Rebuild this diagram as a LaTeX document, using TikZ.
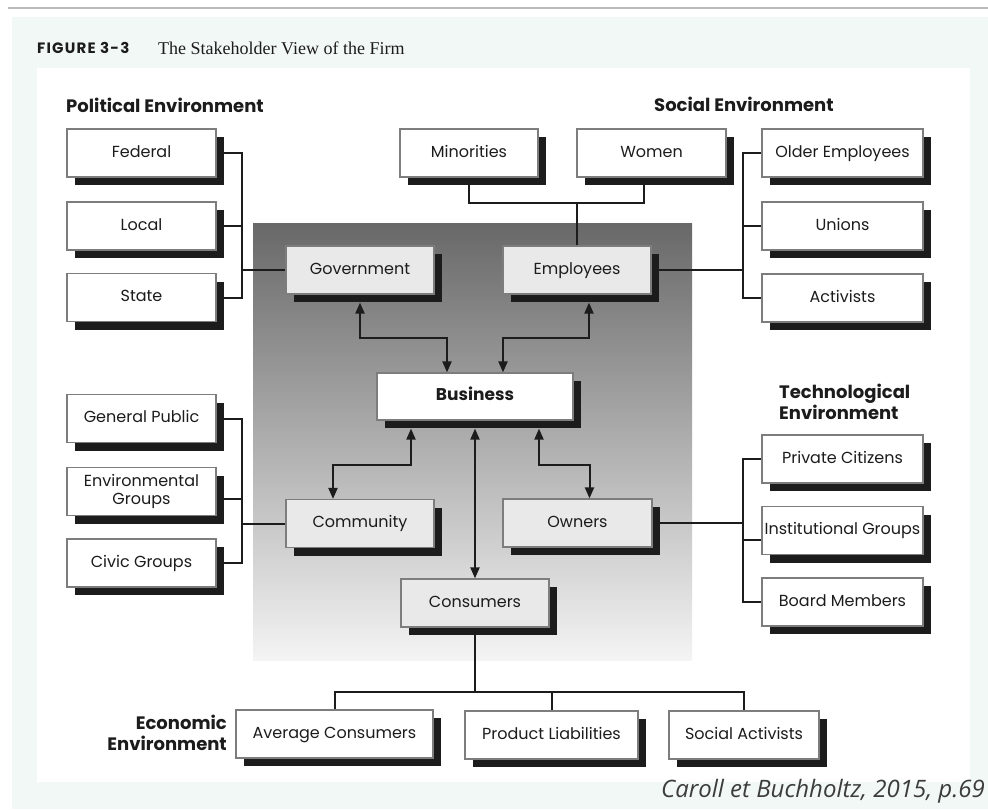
\documentclass[tikz,border=0pt]{standalone}
\usepackage{fontspec}
\setmainfont{Poppins}
\newfontfamily\capserif{Liberation Serif}
\newfontfamily\citefont{Open Sans}
\usetikzlibrary{arrows.meta,shadows,backgrounds}
\definecolor{mint}{RGB}{242,248,245}
\definecolor{edge}{RGB}{125,125,125}
\definecolor{inbox}{RGB}{233,233,233}
\definecolor{ink}{RGB}{28,28,28}
\definecolor{pantop}{RGB}{104,104,104}
\definecolor{panbot}{RGB}{244,244,244}
\definecolor{citegray}{RGB}{60,60,60}
\begin{document}
\begin{tikzpicture}[x=1pt,y=-1pt,line join=miter,
  stake/.style={draw=edge,line width=1.2pt,fill=white,minimum height=48pt,inner sep=0pt,
    align=center,font=\fontsize{16}{18}\selectfont,text=ink,text height=11.5pt,text depth=3.5pt,
    drop shadow={shadow xshift=8pt,shadow yshift=-8pt,fill=ink,opacity=1}},
  innerbox/.style={stake,fill=inbox},
  envlabel/.style={font=\bfseries\fontsize{18}{21}\selectfont,text=ink,inner sep=0pt},
  link/.style={draw=ink,line width=2pt},
  twoway/.style={link,{Triangle[length=11pt,width=9pt]}-{Triangle[length=11pt,width=9pt]}}]
  \useasboundingbox (0,0) rectangle (988,809);
  \begin{scope}[on background layer]
   \fill[white] (0,0) rectangle (988,809);
   \draw[gray!55,line width=2.5pt] (8,8) -- (988,8);
   \fill[mint] (12,17) rectangle (988,809);
   \fill[white] (37,68) rectangle (970,782);
   \shade[top color=pantop,bottom color=panbot] (253,223) rectangle (692,660);
  \end{scope}
  % caption and environments
  \node[anchor=west,inner sep=0pt,font=\bfseries\fontsize{15}{17}\selectfont\addfontfeatures{LetterSpace=8},text=ink] (fig) at (37,48) {FIGURE 3-3};
  \node[anchor=west,inner sep=0pt,font=\capserif\fontsize{18}{20}\selectfont,text=ink] (title) at (158,48) {The Stakeholder View of the Firm};
  \node[envlabel,anchor=west] (polenv) at (66,105) {Political Environment};
  \node[envlabel,anchor=west] (socenv) at (654,104) {Social Environment};
  \node[envlabel,anchor=west,align=left] (tecenv) at (779,402) {Technological\\Environment};
  \node[envlabel,anchor=east,align=right] (ecoenv) at (227,733) {Economic\\Environment};
  \node[anchor=east,inner sep=0pt,font=\citefont\itshape\fontsize{24}{26}\selectfont,text=citegray] (cite) at (985,791) {Caroll et Buchholtz, 2015, p.69};
  % stakeholders
  \foreach \n/\t/\y in {fed/Federal/153,loc/Local/226,sta/State/297.5,gen/General Public/418.5,civ/Civic Groups/563}
   \node[stake,minimum width=149pt] (\n) at (141.5,\y) {\t};
  \node[stake,minimum width=149pt,text height=29.5pt] (env) at (141.5,491.5) {Environmental\\Groups};
  \foreach \n/\t/\y in {old/Older Employees/153,uni/Unions/226,act/Activists/298,pri/Private Citizens/459,ins/Institutional Groups/530.5,boa/Board Members/602}
   \node[stake,minimum width=161pt] (\n) at (842.5,\y) {\t};
  \node[stake,minimum width=138pt] (min) at (469,153) {Minorities};
  \node[stake,minimum width=149pt] (wom) at (651.5,153) {Women};
  \node[innerbox,minimum width=148pt] (gov) at (360,270) {Government};
  \node[innerbox,minimum width=148pt] (emp) at (577,270) {Employees};
  \node[stake,minimum width=196pt,minimum height=47pt,font=\bfseries\fontsize{17}{19}\selectfont] (bus) at (475,396.5) {Business};
  \node[innerbox,minimum width=148pt] (com) at (360,523.5) {Community};
  \node[innerbox,minimum width=149pt] (own) at (577.5,523) {Owners};
  \node[innerbox,minimum width=148pt] (con) at (475,603) {Consumers};
  \node[stake,minimum width=197pt] (avg) at (334.5,734) {Average Consumers};
  \node[stake,minimum width=173pt] (pro) at (551.5,735) {Product Liabilities};
  \node[stake,minimum width=150pt] (soc) at (744,735) {Social Activists};
  \coordinate (pb) at (242,270);
  \coordinate (sj) at (577,203);
  \coordinate (sb) at (743,270);
  \coordinate (cb) at (242,523.5);
  \coordinate (tb) at (743,523);
  \coordinate (eb) at (475,692);
  \begin{scope}[on background layer]
   \draw[link] (fed.east) -| (pb) -- (gov.west);
   \draw[link] (sta.east) -| (pb);
   \draw[link] (loc.east) -- (loc.east -| pb);
   \draw[link] (min.south) |- (sj) -- (emp.north);
   \draw[link] ([xshift=-8pt]wom.south) |- (sj);
   \draw[link] (emp.east) -- (sb);
   \draw[link] (old.west) -| (sb);
   \draw[link] (act.west) -| (sb);
   \draw[link] (uni.west) -- (uni.west -| sb);
   \draw[link] (gen.east) -| (cb) -- (com.west);
   \draw[link] (civ.east) -| (cb);
   \draw[link] ([yshift=-7pt]env.east) -- ([yshift=-7pt]env.east -| cb);
   \draw[link] (own.east) -- (tb);
   \draw[link] (pri.west) -| (tb);
   \draw[link] (boa.west) -| (tb);
   \draw[link] ([yshift=-9pt]ins.west) -- ([yshift=-9pt]ins.west -| tb);
   \draw[link] (con.south) -- (eb);
   \draw[link] (avg.north) |- (eb) -| (soc.north);
   \draw[link] (pro.north) -- (pro.north |- eb);
   \draw[twoway] ([yshift=-8pt]gov.south) -- ++(0,35) -| ([xshift=-28pt]bus.north);
   \draw[twoway] ([xshift=12pt,yshift=-8pt]emp.south) -- ++(0,35) -| ([xshift=28pt]bus.north);
   \draw[twoway] ([xshift=-64pt,yshift=-8pt]bus.south) -- ++(0,36) -| ([xshift=-27pt]com.north);
   \draw[twoway] ([xshift=64pt,yshift=-8pt]bus.south) -- ++(0,36) -| ([xshift=12pt]own.north);
   \draw[twoway] ([yshift=-8pt]bus.south) -- (con.north);
  \end{scope}
\end{tikzpicture}
\end{document}
